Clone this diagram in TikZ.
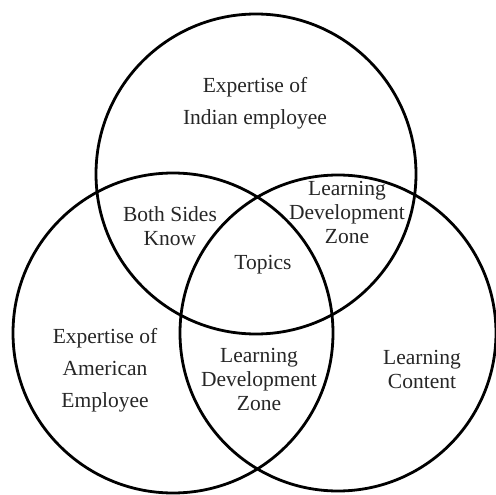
\documentclass[tikz,border=0pt]{standalone}
\usepackage{fontspec}
\setmainfont{Liberation Serif}
\usepackage{tikz}
\usetikzlibrary{positioning}

\begin{document}
\begin{tikzpicture}
  [
  x=1pt,y=-1pt,
  set/.style={draw=black,line width=2.8pt},
  zone/.style={align=center,text=black!85,inner sep=0pt,font=\fontsize{21.5}{24}\selectfont},
  wide zone/.style={zone,font=\fontsize{21.5}{32}\selectfont}
  ]
  \useasboundingbox (0,0) rectangle (496,495);
  \draw[set] (256,174) circle (160);
  \draw[set] (173,333) circle (160);
  \draw[set] (338,333) circle (158);
  \node[wide zone] (indian) at (255,103) {Expertise of\\Indian employee};
  \node[wide zone] (american) at (105,370) {Expertise of\\American\\Employee};
  \node[zone] (both sides) at (170,226) {Both Sides\\Know};
  \node[zone] (upper zone) at (347,212) {Learning\\Development\\Zone};
  \node[zone] (topics) at (263,265) {Topics};
  \node[zone] (lower zone) at (259,379) {Learning\\Development\\Zone};
  \node[zone] (content) at (422,369) {Learning\\Content};
\end{tikzpicture}
\end{document}
